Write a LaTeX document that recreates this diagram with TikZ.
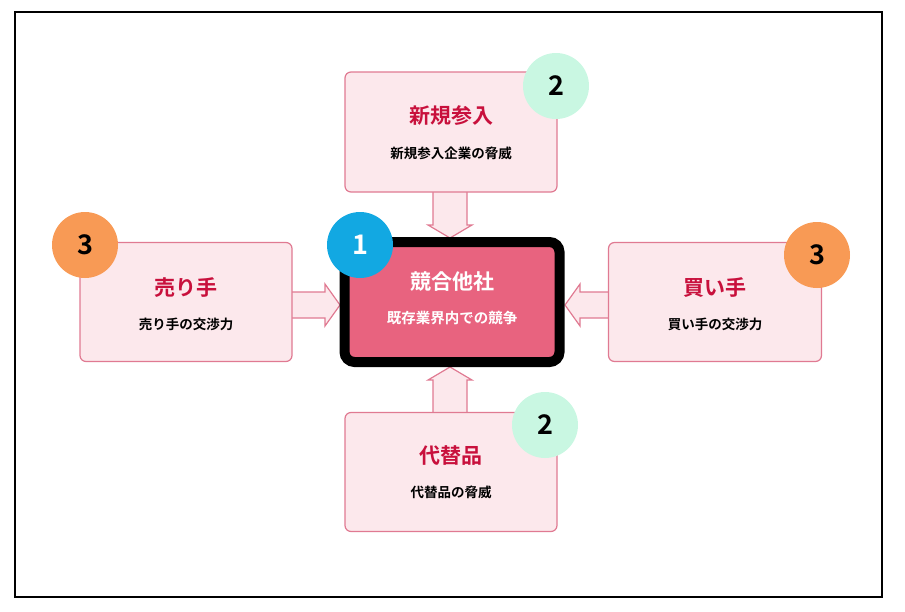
\documentclass[tikz,border=0pt]{standalone}
\usepackage{fontspec}
\setmainfont{Noto Sans CJK JP}[BoldFont={* Bold}]
\definecolor{bfill}{HTML}{FCE8EC}
\definecolor{bdraw}{HTML}{E07A92}
\definecolor{cfill}{HTML}{E8637F}
\definecolor{ttl}{HTML}{C8103C}
\definecolor{bblue}{HTML}{12A8E2}
\definecolor{bgreen}{HTML}{C9F7E2}
\definecolor{borange}{HTML}{F89A55}
\begin{document}
\begin{tikzpicture}[x=1pt,y=-1pt,
  box/.style={draw=bdraw,fill=bfill,line width=1.2pt,rounded corners=6pt},
  arr/.style={draw=bdraw,fill=bfill,line width=1.2pt,line join=miter},
  ttl/.style={font=\fontsize{21}{21}\selectfont\bfseries,text=ttl},
  sub/.style={font=\fontsize{13.5}{14}\selectfont\bfseries},
  badge/.style={circle,minimum size=66pt,inner sep=0pt,font=\fontsize{27}{27}\selectfont\bfseries}]
\useasboundingbox (0,0) rectangle (905,611);
\draw[line width=2pt] (15,12) rectangle (882,597);
% arrows
\draw[arr] (433,190) -- (433,225) -- (428,225) -- (450,238) -- (472,225) -- (467,225) -- (467,190);
\draw[arr] (433,415) -- (433,380) -- (428,380) -- (450,367) -- (472,380) -- (467,380) -- (467,415);
\draw[arr] (290,292) -- (325,292) -- (325,284) -- (340,305) -- (325,326) -- (325,318) -- (290,318);
\draw[arr] (611,292) -- (580,292) -- (580,284) -- (565,305) -- (580,326) -- (580,318) -- (611,318);
% boxes
\node[box,minimum width=212pt,minimum height=120pt] (top) at (451,132) {};
\node[ttl] (topt) at (451,116) {新規参入};
\node[sub] (tops) at (451,153) {新規参入企業の脅威};
\node[box,minimum width=212pt,minimum height=119pt] (bot) at (451,472) {};
\node[ttl] (bott) at (451,456) {代替品};
\node[sub] (bots) at (451,492) {代替品の脅威};
\node[box,minimum width=212pt,minimum height=119pt] (lft) at (186,302) {};
\node[ttl] (lftt) at (186,288) {売り手};
\node[sub] (lfts) at (186,324) {売り手の交渉力};
\node[box,minimum width=213pt,minimum height=119pt] (rgt) at (715,302) {};
\node[ttl] (rgtt) at (715,288) {買い手};
\node[sub] (rgts) at (715,324) {買い手の交渉力};
% center
\node[draw=black,line width=10pt,fill=cfill,rounded corners=10pt,minimum width=215pt,minimum height=120pt] (ctr) at (452,302) {};
\node[font=\fontsize{21}{21}\selectfont\bfseries,text=white] (ctrt) at (452,282) {競合他社};
\node[font=\fontsize{14.5}{15}\selectfont\bfseries,text=white] (ctrs) at (452,318) {既存業界内での競争};
% badges
\node[badge,fill=bblue,text=white] (b1) at (360,245) {1};
\node[badge,fill=bgreen] (b2t) at (556,86) {2};
\node[badge,fill=bgreen] (b2b) at (545,425) {2};
\node[badge,fill=borange] (b3l) at (85,245) {3};
\node[badge,fill=borange] (b3r) at (817,255) {3};
\end{tikzpicture}
\end{document}
